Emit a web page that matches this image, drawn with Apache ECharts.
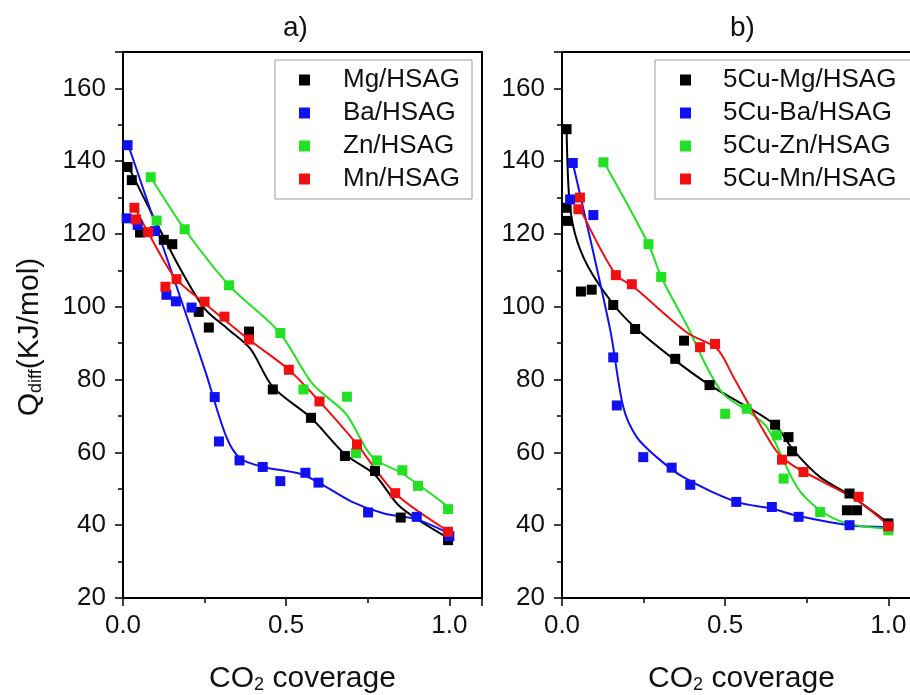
<!DOCTYPE html>
<html><head><meta charset="utf-8">
<script src="https://cdn.jsdelivr.net/npm/echarts@6/dist/echarts.min.js"></script>
<style>html,body{margin:0;padding:0;background:#fff}#c{width:910px;height:695px}</style>
</head><body><div id="c"></div>
<script>
// ---------- data ----------
const legendA = ['Mg/HSAG', 'Ba/HSAG', 'Zn/HSAG', 'Mn/HSAG'];
const legendB = ['5Cu-Mg/HSAG', '5Cu-Ba/HSAG', '5Cu-Zn/HSAG', '5Cu-Mn/HSAG'];
const xTicks = [0, 0.5, 1.0];
const yTicks = [20, 40, 60, 80, 100, 120, 140, 160];

// panel a measured points [coverage, Qdiff]
const mgA = [[0.014,138.4],[0.027,134.8],[0.052,120.4],[0.125,118.4],[0.151,117.2],[0.232,98.6],[0.263,94.3],[0.386,93.2],[0.459,77.3],[0.576,69.5],[0.680,59.0],[0.772,54.9],[0.851,42.1],[0.996,35.9]];
const baA = [[0.014,144.4],[0.011,124.3],[0.045,122.5],[0.098,120.8],[0.133,103.3],[0.162,101.5],[0.210,99.8],[0.281,75.2],[0.294,63.0],[0.357,57.8],[0.428,56.0],[0.482,52.1],[0.559,54.4],[0.599,51.7],[0.751,43.5],[0.900,42.3],[1.0,37.0]];
const znA = [[0.085,135.6],[0.103,123.7],[0.189,121.3],[0.325,105.9],[0.482,92.8],[0.553,77.3],[0.686,75.3],[0.714,59.8],[0.778,57.8],[0.856,55.1],[0.904,50.8],[0.996,44.4]];
const mnA = [[0.035,127.2],[0.040,124.0],[0.077,120.5],[0.130,105.5],[0.164,107.6],[0.250,101.4],[0.311,97.3],[0.386,91.0],[0.508,82.7],[0.602,74.0],[0.717,62.2],[0.834,48.8],[0.996,38.2]];
// panel a fitted curves (traced)
const mgAFit = [[0.014,139],[0.1,123.5],[0.175,110.5],[0.25,99.5],[0.32,94],[0.39,88.5],[0.459,78],[0.576,69.5],[0.68,59.5],[0.77,54],[0.85,45],[1.0,36.3]];
const baAFit = [[0.014,145],[0.21,93.5],[0.255,81.5],[0.317,64.2],[0.36,58.3],[0.43,56],[0.54,54.2],[0.6,51.7],[0.7,46.5],[0.8,43.2],[0.9,41.6],[1.0,37.7]];
const znAFit = [[0.085,135.6],[0.189,121.3],[0.327,105.7],[0.479,93],[0.581,78.8],[0.683,70.6],[0.764,58.7],[0.856,54.2],[1.0,44.8]];
const mnAFit = [[0.035,127.5],[0.077,120.4],[0.159,108],[0.25,101],[0.386,91],[0.508,82.7],[0.602,74],[0.717,62.2],[0.834,48.8],[1.0,38.2]];

// panel b measured points
const mgB = [[0.014,148.8],[0.014,127.2],[0.016,123.6],[0.058,104.2],[0.091,104.7],[0.157,100.5],[0.224,93.9],[0.347,85.7],[0.374,90.7],[0.452,78.5],[0.653,67.6],[0.694,64.2],[0.705,60.3],[0.873,44.1],[0.881,48.7],[0.904,44.1],[1.0,40.5]];
const baB = [[0.025,129.5],[0.033,139.5],[0.096,125.2],[0.157,86.1],[0.168,72.9],[0.249,58.7],[0.336,55.8],[0.393,51.1],[0.534,46.4],[0.643,45.0],[0.725,42.3],[0.881,40.0],[1.0,39.5]];
const znB = [[0.127,139.7],[0.265,117.2],[0.304,108.2],[0.5,70.6],[0.566,72.0],[0.658,64.7],[0.679,52.8],[0.791,43.6],[1.0,38.6]];
const mnB = [[0.05,126.8],[0.055,130.0],[0.165,108.7],[0.214,106.2],[0.423,88.9],[0.469,89.8],[0.674,58.0],[0.74,54.6],[0.909,47.8],[1.0,39.7]];
// panel b fitted curves (traced)
const mgBFit = [[0.014,149],[0.022,130],[0.04,120],[0.08,111],[0.157,100.7],[0.224,94.3],[0.341,85.7],[0.454,78.4],[0.648,67.9],[0.71,60.5],[0.791,53.2],[0.883,48.2],[1.0,40.6]];
const baBFit = [[0.033,139.5],[0.147,94],[0.188,72.4],[0.229,64.2],[0.29,58.7],[0.372,53.2],[0.534,46.4],[0.643,44.6],[0.725,42.5],[0.88,40],[1.0,39.5]];
const znBFit = [[0.127,140],[0.265,117.2],[0.304,108.2],[0.385,94.5],[0.444,83.4],[0.495,76],[0.566,71.5],[0.628,66.9],[0.72,50.5],[0.791,44.1],[0.873,40.5],[1.0,39]];
const mnBFit = [[0.05,128],[0.163,109],[0.219,105.5],[0.385,92.8],[0.475,88.5],[0.526,80.6],[0.648,61.5],[0.699,56.9],[0.791,52.3],[0.904,46.8],[1.0,40]];

const colors = ['#000000', '#1010f0', '#22e022', '#f01010'];
const FONT = '"Liberation Sans", Arial, sans-serif';

// ---------- chart ----------
const chart = echarts.init(document.getElementById('c'), null, {renderer: 'canvas'});

function xAxisCfg(gi) {
  return {
    type: 'value', gridIndex: gi, min: 0, max: 1.1, interval: 0.5,
    axisLine: {show: true, onZero: false, lineStyle: {color: '#000', width: 2}},
    axisTick: {show: true, length: 8, lineStyle: {color: '#000', width: 1.5}},
    minorTick: {show: true, splitNumber: 2, length: 5, lineStyle: {color: '#000', width: 1.5}},
    splitLine: {show: false}, minorSplitLine: {show: false},
    axisLabel: {fontSize: 26, color: '#111', fontFamily: FONT, margin: 15, showMaxLabel: false,
      formatter: v => (xTicks.indexOf(v) >= 0 ? v.toFixed(1) : '')},
    name: '{a|CO}{s|2}{a| coverage}', nameLocation: 'middle', nameGap: 62,
    nameTextStyle: {rich: {
      a: {fontSize: 30, lineHeight: 34, color: '#111', fontFamily: FONT, verticalAlign: 'bottom'},
      s: {fontSize: 18, lineHeight: 10, color: '#111', fontFamily: FONT, verticalAlign: 'bottom'}
    }}
  };
}
function yAxisCfg(gi) {
  return {
    type: 'value', gridIndex: gi, min: 20, max: 170, interval: 20,
    axisLine: {show: true, onZero: false, lineStyle: {color: '#000', width: 2}},
    axisTick: {show: true, length: 8, lineStyle: {color: '#000', width: 1.5}},
    minorTick: {show: true, splitNumber: 2, length: 5, lineStyle: {color: '#000', width: 1.5}},
    splitLine: {show: false}, minorSplitLine: {show: false},
    axisLabel: {fontSize: 26, color: '#111', fontFamily: FONT, margin: 17, showMaxLabel: false,
      formatter: v => (yTicks.indexOf(v) >= 0 ? String(v) : '')},
    name: gi === 0 ? '{a|Q}{s|diff}{e|(KJ/mol)}' : '',
    nameLocation: 'middle', nameGap: 78, nameRotate: 90,
    nameTextStyle: {rich: {
      a: {fontSize: 30, lineHeight: 34, color: '#111', fontFamily: FONT, verticalAlign: 'bottom'},
      e: {fontSize: 30, lineHeight: 34, color: '#111', fontFamily: FONT, verticalAlign: 'bottom', padding: [0, 24, 0, 0]},
      s: {fontSize: 18, lineHeight: 10, color: '#111', fontFamily: FONT, verticalAlign: 'bottom'}
    }}
  };
}

const ptsA = [mgA, baA, znA, mnA], fitA = [mgAFit, baAFit, znAFit, mnAFit];
const ptsB = [mgB, baB, znB, mnB], fitB = [mgBFit, baBFit, znBFit, mnBFit];
const series = [];
[[fitA, 0, legendA], [fitB, 1, legendB]].forEach(([fits, gi, names]) => {
  fits.forEach((d, i) => series.push({
    type: 'line', name: names[i] + ' fit', xAxisIndex: gi, yAxisIndex: gi, data: d,
    showSymbol: false, symbol: 'none', smooth: 0.3, silent: true, z: 2,
    lineStyle: {color: colors[i], width: 2}
  }));
});
[[ptsA, 0, legendA], [ptsB, 1, legendB]].forEach(([pts, gi, names]) => {
  pts.forEach((d, i) => series.push({
    type: 'scatter', name: names[i], xAxisIndex: gi, yAxisIndex: gi, data: d,
    symbol: 'rect', symbolSize: 10, z: 3, itemStyle: {color: colors[i], opacity: 1}
  }));
});

function legendCfg(names, left, padLeft, padRight, textPad) {
  return {
    data: names, orient: 'vertical', left: left, top: 60,
    padding: [7, padRight, 7, padLeft], itemGap: 7, itemWidth: 11, itemHeight: 11, icon: 'rect',
    borderColor: '#9a9a9a', borderWidth: 1, backgroundColor: '#fff', selectedMode: false,
    textStyle: {fontSize: 26, lineHeight: 26, color: '#111', fontFamily: FONT, padding: [0, 0, 0, textPad]}
  };
}

chart.setOption({
  animation: false,
  backgroundColor: '#fff',
  textStyle: {fontFamily: FONT},
  title: [
    {text: 'a)', left: 283, top: 14, padding: 0, textStyle: {fontSize: 28, fontWeight: 'normal', color: '#111', fontFamily: FONT}},
    {text: 'b)', left: 730, top: 14, padding: 0, textStyle: {fontSize: 28, fontWeight: 'normal', color: '#111', fontFamily: FONT}}
  ],
  grid: [
    {left: 123, top: 52, width: 359, height: 546, show: true, borderColor: '#000', borderWidth: 2, backgroundColor: 'transparent', outerBoundsMode: 'none', containLabel: false},
    {left: 562, top: 52, width: 359, height: 546, show: true, borderColor: '#000', borderWidth: 2, backgroundColor: 'transparent', outerBoundsMode: 'none', containLabel: false}
  ],
  legend: [legendCfg(legendA, 275, 24, 12, 28), legendCfg(legendB, 655, 25, 40, 27)],
  xAxis: [xAxisCfg(0), xAxisCfg(1)],
  yAxis: [yAxisCfg(0), yAxisCfg(1)],
  series: series
});
</script>
</body></html>
